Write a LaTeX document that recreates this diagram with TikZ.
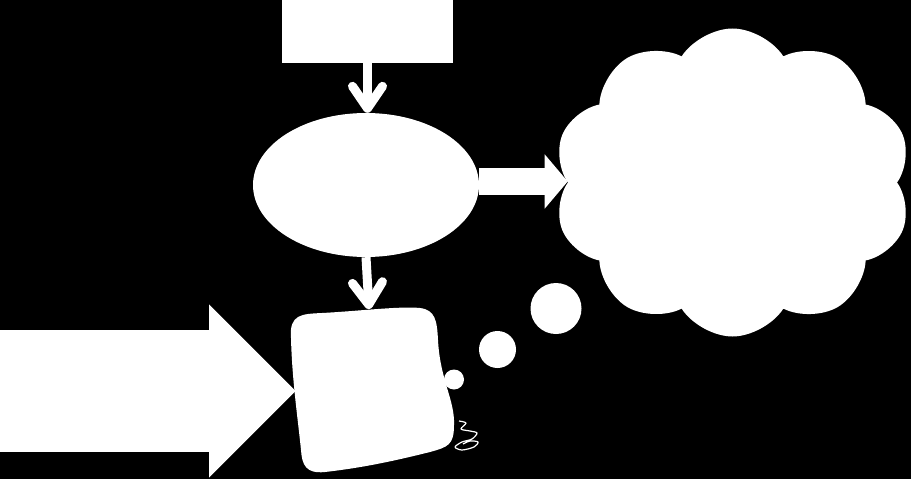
\documentclass[tikz,border=0pt]{standalone}
\usepackage{xcolor}
\usepackage{tikz}
\usetikzlibrary{shapes,shapes.symbols,arrows.meta,positioning,calc}
\definecolor{fondo}{RGB}{0,0,0}
\definecolor{forma}{RGB}{255,255,255}
\tikzset{
  bloque/.style={fill=forma,draw=none,inner sep=0pt},
  flecha/.style={draw=forma,line width=9pt,-{Straight Barb[round,length=22pt,width=30pt]}},
  burbuja/.style={circle,fill=forma,inner sep=0pt}
}

\begin{document}
\begin{tikzpicture}[x=1pt,y=-1pt]
    % Fondo negro y tamaño fijo.
    \fill[fondo] (0,0) rectangle (911,479);
    \useasboundingbox (0,0) rectangle (911,479);

    % Nodos principales.
    \node[bloque,rectangle,minimum width=171pt,minimum height=63pt] (entrada) at (367.5,31.5) {};
    \node[bloque,ellipse,minimum width=226pt,minimum height=144pt] (proceso) at (366,185) {};
    \node[bloque,cloud,cloud puffs=10,cloud puff arc=115,aspect=1.2,
      minimum width=358pt,minimum height=308pt] (nube) at (732.5,182.5) {};

    % Documento con bordes ondulados.
    \fill[forma] (291,338) .. controls (289,314) and (302,314) .. (322,313)
      .. controls (360,311) and (400,306) .. (420,308)
      .. controls (435,310) and (437,320) .. (438,340)
      .. controls (440,380) and (455,400) .. (454,425)
      .. controls (454,445) and (448,447) .. (430,452)
      .. controls (390,462) and (360,468) .. (325,472)
      .. controls (306,474) and (302,465) .. (301,450)
      .. controls (298,420) and (292,380) .. (291,338) -- cycle;
    \coordinate (doc) at (369,309);
    \coordinate (docizq) at (296,391);
    \coordinate (origen) at (0,391);

    % Conectores.
    \draw[flecha] (entrada.south) -- (entrada.south |- proceso.north);
    \draw[flecha] (proceso.south) -- (doc);
    \draw[forma,line width=27pt,-{Triangle[length=23pt,width=53pt]}]
      (proceso.east |- 0,181.5) -- (nube.west |- 0,181.5);
    \draw[forma,line width=122pt,-{Triangle[length=87pt,width=168pt]}] (origen) -- (docizq);

    % Burbujas de pensamiento.
    \node[burbuja,minimum size=20pt] (b1) at (454,379.5) {};
    \node[burbuja,minimum size=37pt] (b2) at (497.5,349.5) {};
    \node[burbuja,minimum size=51pt] (b3) at (556,308.5) {};

    % Garabato junto al documento.
    \draw[forma,line width=1.2pt,line join=round] plot[smooth,tension=0.5] coordinates {
      (459,421) (466,423) (461,429) (470,431) (477,433) (472,439) (462,442)
      (455,447) (462,450) (474,447) (478,442) (470,441) (463,444)};
  \end{tikzpicture}
\end{document}
